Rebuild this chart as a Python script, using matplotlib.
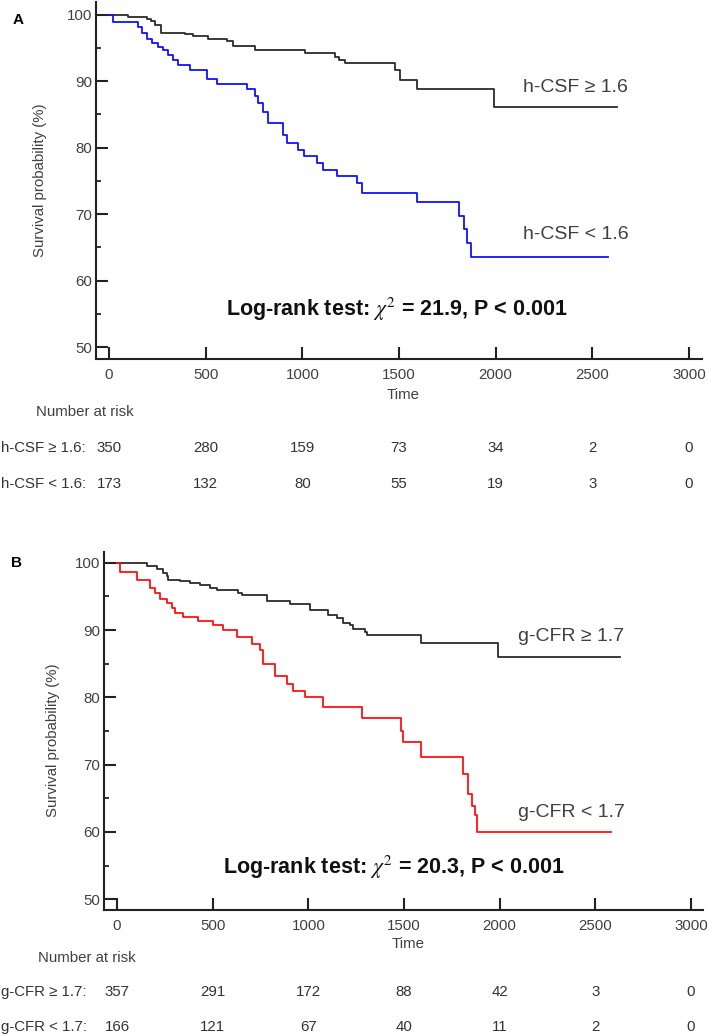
import numpy as np
import matplotlib
matplotlib.use("Agg")
import matplotlib.pyplot as plt
import matplotlib.transforms as mtrans

plt.rcParams['font.family'] = ['Liberation Sans', 'DejaVu Sans']
plt.rcParams['mathtext.fontset'] = 'stix'

# panel A : h-CSF
a_hi_t = [0, 100, 195, 215, 240, 270, 395, 436, 514, 610, 640, 755, 1014, 1169, 1190, 1221, 1480, 1505, 1592, 1992, 2626]
a_hi_v = [100, 99.7, 99.4, 99.0, 98.5, 97.3, 97.1, 96.8, 96.4, 96.0, 95.3, 94.7, 94.2, 93.6, 93.2, 92.7, 91.7, 90.2, 88.8, 86.1, 86.1]
a_lo_t = [0, 22, 152, 169, 195, 221, 255, 281, 307, 333, 359, 419, 505, 557, 712, 755, 772, 798, 824, 902, 919,
          979, 1009, 1074, 1109, 1178, 1283, 1307, 1592, 1811, 1837, 1853, 1871, 2581]
a_lo_v = [100, 98.9, 98.2, 97.2, 96.4, 95.7, 95.2, 94.7, 93.9, 93.2, 92.4, 91.7, 90.3, 89.6, 88.8, 87.7, 86.7, 85.4,
          83.7, 81.9, 80.7, 79.6, 78.7, 77.7, 76.7, 75.7, 74.6, 73.2, 71.8, 69.7, 67.8, 65.6, 63.6, 63.6]

# panel B : g-CFR
b_hi_t = [0, 155, 207, 242, 260, 268, 329, 382, 434, 486, 521, 634, 652, 782, 904, 1009, 1105, 1150, 1180, 1218,
          1234, 1296, 1305, 1589, 1990, 2629]
b_hi_v = [100, 99.5, 99.0, 98.5, 98.0, 97.5, 97.3, 97.0, 96.7, 96.3, 96.0, 95.5, 95.2, 94.3, 93.8, 93.0, 92.3, 91.8,
          91.1, 90.7, 90.2, 89.7, 89.2, 88.05, 86.05, 86.05]
b_lo_t = [0, 15, 103, 172, 199, 225, 260, 286, 303, 347, 425, 503, 556, 625, 704, 747, 765, 826, 887, 922, 983, 1078,
          1279, 1485, 1497, 1589, 1810, 1837, 1853, 1870, 1882, 2582]
b_lo_v = [100, 98.7, 97.4, 96.3, 95.5, 94.6, 94.0, 93.3, 92.5, 92.0, 91.3, 90.7, 90.0, 89.0, 88.0, 87.0, 85.0, 83.1,
          82.0, 81.0, 80.0, 78.5, 77.0, 75.05, 73.3, 71.2, 68.55, 65.7, 63.8, 62.5, 60.0, 60.0]

risk_times = [0, 500, 1000, 1500, 2000, 2500, 3000]
a_risk_hi = [350, 280, 159, 73, 34, 2, 0]
a_risk_lo = [173, 132, 80, 55, 19, 3, 0]
b_risk_hi = [357, 291, 172, 88, 42, 3, 0]
b_risk_lo = [166, 121, 67, 40, 11, 2, 0]

a_names = ['h-CSF \u2265 1.6', 'h-CSF < 1.6']
b_names = ['g-CFR \u2265 1.7', 'g-CFR < 1.7']
a_stat = r'Log-rank test: $\chi^2$ = 21.9, P < 0.001'
b_stat = r'Log-rank test: $\chi^2$ = 20.3, P < 0.001'

W, H = 709, 1036
fig = plt.figure(figsize=(W / 100, H / 100), dpi=100)
grey = '#404040'


def fy(py):
    return 1 - py / H


def panel(left, right, top, bottom, xlim, ylim):
    ax = fig.add_axes([left / W, 1 - bottom / H, (right - left) / W, (bottom - top) / H])
    ax.set_xlim(*xlim)
    ax.set_ylim(*ylim)
    for s in ['top', 'right']:
        ax.spines[s].set_visible(False)
    for s in ['left', 'bottom']:
        ax.spines[s].set_linewidth(1.5)
        ax.spines[s].set_color('#222222')
    ax.set_xticks(risk_times)
    ax.set_yticks([50, 60, 70, 80, 90, 100])
    ax.set_yticks([55, 65, 75, 85, 95], minor=True)
    ax.tick_params(axis='both', which='major', direction='in', length=8.6, width=1.5, color='#222222',
                   labelsize=10.8, labelcolor=grey)
    ax.tick_params(axis='y', which='minor', direction='in', length=3.5, width=1.3, color='#222222')
    ax.tick_params(axis='x', pad=6.2)
    ax.tick_params(axis='y', pad=3)
    ax.patch.set_alpha(0)
    return ax


def risk_table(ax, names, hi, lo, y_num, y_r1, y_r2, x_num):
    tr = mtrans.blended_transform_factory(ax.transData, fig.transFigure)
    fig.text(x_num / W, fy(y_num), 'Number at risk', ha='right', va='center', fontsize=10.8, color=grey)
    for name, row, yy in [(names[0], hi, y_r1), (names[1], lo, y_r2)]:
        fig.text(1 / W, fy(yy), name + ':', ha='left', va='center', fontsize=10.8, color='#333333')
        for t, n in zip(risk_times, row):
            ax.text(t, fy(yy), str(n), transform=tr, ha='center', va='center', fontsize=10.8, color='#333333')


# ---- panel A
axA = panel(96, 702, 2, 359, (-67, 3067), (48.2, 101.9))
axA.step(a_hi_t, a_hi_v, where='post', color='#2b2b2b', lw=1.3)
axA.step(a_lo_t, a_lo_v, where='post', color='#1010ff', lw=1.3)
axA.text(2142, 89.0, a_names[0], ha='left', va='center', fontsize=14, color=grey)
axA.text(2142, 66.9, a_names[1], ha='left', va='center', fontsize=14, color=grey)
axA.text(1490, 55.6, a_stat, ha='center', va='center', fontsize=15.5, fontweight='bold', color='#111111')
fig.text(18 / W, fy(20), 'A', ha='center', va='center', fontsize=11, fontweight='bold')
fig.text(40 / W, fy(180), 'Survival probability (%)', rotation=90, ha='center', va='center', fontsize=10.8,
         color=grey)
trA = mtrans.blended_transform_factory(axA.transData, fig.transFigure)
axA.text(1520, fy(395), 'Time', transform=trA, ha='center', va='center', fontsize=10.8, color=grey)
risk_table(axA, a_names, a_risk_hi, a_risk_lo, 412, 448, 484, 134)

# ---- panel B
axB = panel(104, 703, 552, 910, (-68, 3063), (48.4, 101.6))
axB.step(b_hi_t, b_hi_v, where='post', color='#2b2b2b', lw=1.3)
axB.step(b_lo_t, b_lo_v, where='post', color='#ff1010', lw=1.3)
axB.text(2096, 89.0, b_names[0], ha='left', va='center', fontsize=14, color=grey)
axB.text(2096, 62.9, b_names[1], ha='left', va='center', fontsize=14, color=grey)
axB.text(1448, 54.8, b_stat, ha='center', va='center', fontsize=15.5, fontweight='bold', color='#111111')
fig.text(17 / W, fy(563), 'B', ha='center', va='center', fontsize=11, fontweight='bold')
fig.text(53 / W, fy(740), 'Survival probability (%)', rotation=90, ha='center', va='center', fontsize=10.8,
         color=grey)
trB = mtrans.blended_transform_factory(axB.transData, fig.transFigure)
axB.text(1520, fy(944), 'Time', transform=trB, ha='center', va='center', fontsize=10.8, color=grey)
risk_table(axB, b_names, b_risk_hi, b_risk_lo, 958, 992, 1027, 136)

fig.savefig('out.png', dpi=100)
